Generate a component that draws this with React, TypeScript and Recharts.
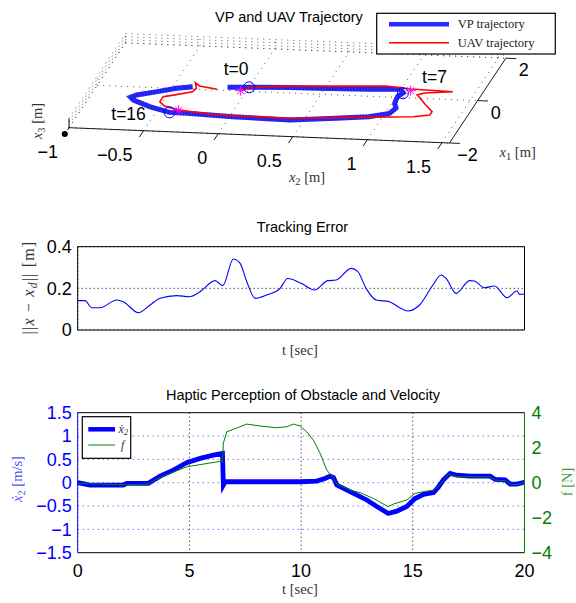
import React from "react";
import {
  LineChart,
  Line,
  XAxis,
  YAxis,
  CartesianGrid,
  ReferenceLine,
  ReferenceDot,
} from "recharts";

const SANS = "'Liberation Sans', Arial, Helvetica, sans-serif";
const SERIF = "'Liberation Serif', 'DejaVu Serif', 'Times New Roman', serif";
const BLUE = "#0000ff";
const RED = "#ff0000";
const GREEN = "#008000";
const MAGENTA = "#ff00ff";
const TICK_FONT = 18;

// 3D trajectories on the floor plane, [m]
const VP_X1 = [0.15, 0.19, 0.25, 0.27, 0.32, 0.38, 0.22, 0.03, -0.28, -0.5, -0.75, -0.94, -1.07, -1.24, -1.19, -1.12, -1.11, -0.89, -0.61, -0.49, -0.37, -0.18, 0.01, 0.11];
const VP_X2 = [-0.14, -0.01, 0.27, 0.46, 0.79, 1.0, 1.03, 1.01, 1.02, 1.05, 1.03, 0.91, 0.7, 0.41, 0.02, -0.29, -0.41, -0.56, -0.7, -0.73, -0.7, -0.58, -0.47, -0.37];
const UAV_X1 = [0.02, 0.19, 0.32, 0.5, 0.41, 0.36, 0.25, 0.15, 0.07, -0.3, -0.59, -0.75, -0.86, -1.0, -1.16, -1.14, -0.99, -0.83, -0.64, -0.4, -0.31, -0.12, 0.05, 0.3, 0.16, 0.04];
const UAV_X2 = [-0.04, 0.01, 0.26, 0.89, 1.06, 1.35, 1.17, 1.13, 1.15, 1.23, 1.3, 1.3, 1.2, 0.81, 0.4, -0.09, -0.36, -0.47, -0.52, -0.52, -0.46, -0.35, -0.34, -0.37, -0.33, -0.2];
const MARK_VP_X1 = [0.19, 0.2, -1.11];
const MARK_VP_X2 = [0.0, 1.03, -0.41];
const MARK_UAV_X1 = [0.02, 0.33, -0.99];
const MARK_UAV_X2 = [-0.04, 1.07, -0.36];
const MARK_LABELS = ["t=0", "t=7", "t=16"];
const X1_TICKS = [-2, 0, 2];
const X2_TICKS = [-1, -0.5, 0, 0.5, 1, 1.5];
const X3_TICKS = [0, 1, 2, 3];

// tracking error
const TE_T = [0, 0.33, 0.63, 1.0, 1.75, 2.04, 2.72, 3.24, 3.69, 4.43, 5.0, 5.48, 6.15, 6.49, 6.97, 7.27, 7.57, 7.94, 8.46, 9.06, 9.4, 10.0, 10.6, 11.19, 11.57, 12.24, 12.54, 12.91, 13.36, 13.96, 14.33, 14.78, 15.3, 15.9, 16.27, 16.49, 16.94, 17.54, 17.76, 18.2, 18.66, 19.22, 19.66, 19.78, 20];
const TE_V = [0.141, 0.141, 0.107, 0.107, 0.144, 0.136, 0.083, 0.12, 0.152, 0.165, 0.16, 0.184, 0.237, 0.213, 0.341, 0.32, 0.232, 0.152, 0.168, 0.2, 0.247, 0.224, 0.192, 0.237, 0.24, 0.296, 0.28, 0.2, 0.144, 0.136, 0.112, 0.091, 0.12, 0.216, 0.264, 0.248, 0.176, 0.237, 0.235, 0.203, 0.211, 0.155, 0.187, 0.171, 0.173];
const T_TICKS = [0, 5, 10, 15, 20];
const TE_TICKS = [0, 0.2, 0.4];

// haptic perception
const VEL_T = [0, 0.55, 2.04, 2.2, 3.16, 3.69, 4.28, 4.88, 5.48, 6.07, 6.48, 6.52, 6.6, 9.96, 10.7, 11.07, 11.3, 11.45, 11.6, 12.19, 12.94, 13.39, 13.9, 14.28, 14.73, 15.1, 15.48, 15.93, 16.15, 16.37, 16.67, 16.97, 17.57, 18.46, 18.69, 19.13, 19.36, 19.66, 20];
const VEL_V = [0, -0.05, -0.05, -0.015, -0.015, 0.14, 0.27, 0.43, 0.52, 0.59, 0.63, -0.05, 0.02, 0.02, 0.035, 0.09, 0.14, 0.11, -0.05, -0.19, -0.37, -0.51, -0.66, -0.61, -0.51, -0.34, -0.25, -0.21, -0.09, 0.06, 0.2, 0.16, 0.14, 0.14, 0.07, 0.06, -0.03, -0.03, 0.01];
const F_T = [0, 2.04, 3.16, 3.69, 4.88, 6.48, 6.52, 6.67, 6.97, 7.57, 8.16, 8.9, 9.36, 9.66, 9.96, 10.25, 10.55, 10.85, 11.15, 11.45, 11.6, 12.19, 12.64, 13.24, 13.9, 14.13, 14.73, 15.1, 15.48, 15.93, 16.22, 16.6, 16.97, 18.46, 18.69, 19.13, 19.36, 19.66, 20];
const F_V = [-0.04, -0.12, -0.08, 0.3, 0.91, 1.24, 2.25, 2.91, 3.05, 3.35, 3.24, 3.14, 3.2, 3.35, 3.24, 2.91, 2.44, 1.68, 0.72, 0.25, -0.08, -0.42, -0.57, -0.9, -1.37, -1.22, -0.99, -0.61, -0.51, -0.42, -0.13, 0.5, 0.34, 0.34, 0.15, 0.11, -0.08, -0.11, 0];
const VEL_TICKS = [-1.5, -1, -0.5, 0, 0.5, 1, 1.5];
const F_TICKS = [-4, -2, 0, 2, 4];

const fmt = (v: number) => (v < 0 ? "\u2212" + Math.abs(v) : String(v));

// oblique projection of the 3D box onto the chart's px/py space
const X1_MIN = -2;
const X1_MAX = 2;
const X2_MIN = -1;
const X2_MAX = 1.55;
const X3_MAX = 3;
const proj = (x1: number, x2: number, x3 = 0) => ({
  px: 69 + (x2 - X2_MIN) * 149.2 + (x1 - X1_MIN) * 14.1,
  py: 127.7 + (x2 - X2_MIN) * 6.0 - (x1 - X1_MIN) * 21.2 - x3 * 3.1,
});
const seg = (a: number[], b: number[]) => [proj(a[0], a[1], a[2]), proj(b[0], b[1], b[2])];

const tickText = (text: string, dx: number, dy: number, anchor: string, size = TICK_FONT) =>
  (p: any) => (
    <text x={p.cx + dx} y={p.cy + dy} textAnchor={anchor} fontFamily={SANS} fontSize={size} fill="#000">
      {text}
    </text>
  );

const star = (p: any) => (
  <g stroke={MAGENTA} strokeWidth={1}>
    <line x1={p.cx - 5} y1={p.cy} x2={p.cx + 5} y2={p.cy} />
    <line x1={p.cx} y1={p.cy - 5} x2={p.cx} y2={p.cy + 5} />
    <line x1={p.cx - 3.5} y1={p.cy - 3.5} x2={p.cx + 3.5} y2={p.cy + 3.5} />
    <line x1={p.cx - 3.5} y1={p.cy + 3.5} x2={p.cx + 3.5} y2={p.cy - 3.5} />
  </g>
);

const LABEL_DX = [-13, 31.6, -41];
const LABEL_DY = [-12, -10, 7.7];

const Trajectory3D = () => {
  const vp = VP_X1.map((x1, i) => proj(x1, VP_X2[i]));
  const uav = UAV_X1.map((x1, i) => proj(x1, UAV_X2[i]));
  const grid = [
    ...X2_TICKS.map((t) => seg([X1_MIN, t, 0], [X1_MAX, t, 0])),
    ...X1_TICKS.map((t) => seg([t, X2_MIN, 0], [t, X2_MAX, 0])),
    ...X3_TICKS.map((z) => seg([X1_MIN, X2_MIN, z], [X1_MAX, X2_MIN, z])),
    ...X1_TICKS.map((t) => seg([t, X2_MIN, 0], [t, X2_MIN, X3_MAX])),
    ...X3_TICKS.map((z) => seg([X1_MAX, X2_MIN, z], [X1_MAX, X2_MAX, z])),
    ...X2_TICKS.map((t) => seg([X1_MAX, t, 0], [X1_MAX, t, X3_MAX])),
  ];
  const frame = [
    seg([X1_MIN, X2_MIN, 0], [X1_MIN, X2_MAX, 0]),
    seg([X1_MIN, X2_MAX, 0], [X1_MAX, X2_MAX, 0]),
    seg([X1_MIN, X2_MIN, 0], [X1_MIN, X2_MIN, X3_MAX]),
    ...X2_TICKS.map((t) => seg([X1_MIN, t, 0], [X1_MIN - 0.3, t, 0])),
    ...X1_TICKS.map((t) => seg([t, X2_MAX, 0], [t, X2_MAX + 0.07, 0])),
  ];
  return (
    <LineChart width={576} height={200} margin={{ top: 0, right: 0, bottom: 0, left: 0 }}>
      <XAxis type="number" dataKey="px" domain={[0, 576]} hide allowDataOverflow />
      <YAxis type="number" domain={[0, 200]} reversed hide allowDataOverflow />
      {grid.map((d, i) => (
        <Line key={`g${i}`} data={d} dataKey="py" stroke="#444" strokeWidth={0.9} strokeDasharray="1 5" dot={false} isAnimationActive={false} />
      ))}
      {frame.map((d, i) => (
        <Line key={`f${i}`} data={d} dataKey="py" stroke="#000" strokeWidth={0.9} dot={false} isAnimationActive={false} />
      ))}
      <Line data={vp} dataKey="py" type="linear" stroke="#2a2aff" strokeWidth={5} dot={false} isAnimationActive={false} />
      <Line data={vp} dataKey="py" type="linear" stroke="#0000a0" strokeOpacity={0.35} strokeWidth={5} strokeDasharray="1 2" dot={false} isAnimationActive={false} />
      <Line data={uav} dataKey="py" type="linear" stroke={RED} strokeWidth={1.6} dot={false} isAnimationActive={false} />
      {MARK_VP_X1.map((x1, i) => {
        const p = proj(x1, MARK_VP_X2[i]);
        return <ReferenceDot key={`c${i}`} x={p.px} y={p.py} r={5.5} fill="none" stroke={BLUE} strokeWidth={1} />;
      })}
      {MARK_UAV_X1.map((x1, i) => {
        const p = proj(x1, MARK_UAV_X2[i]);
        return <ReferenceDot key={`s${i}`} x={p.px} y={p.py} r={5} shape={star} />;
      })}
      {MARK_VP_X1.map((x1, i) => {
        const p = proj(x1, MARK_VP_X2[i]);
        return (
          <ReferenceDot key={`l${i}`} x={p.px} y={p.py} r={0}
            shape={tickText(MARK_LABELS[i], LABEL_DX[i], LABEL_DY[i], "middle", 17.5)} />
        );
      })}
      {X2_TICKS.map((t) => {
        const p = proj(X1_MIN, t);
        return <ReferenceDot key={`x2t${t}`} x={p.px} y={p.py} r={0} shape={tickText(fmt(t), -11, 30.5, "end")} />;
      })}
      {X1_TICKS.map((t) => {
        const p = proj(t, X2_MAX);
        return <ReferenceDot key={`x1t${t}`} x={p.px} y={p.py} r={0} shape={tickText(fmt(t), 18, 18, "middle")} />;
      })}
    </LineChart>
  );
};

const TrackingError = () => {
  const data = TE_T.map((t, i) => ({ t, v: TE_V[i] }));
  return (
    <LineChart width={576} height={160} margin={{ top: 46.7, right: 51.5, bottom: 29, left: 27.7 }}>
      <CartesianGrid stroke="#000" strokeDasharray="1 3" />
      <XAxis type="number" dataKey="t" domain={[0, 20]} ticks={T_TICKS} tick={false} tickLine={false} height={1} stroke="#000" />
      <YAxis type="number" domain={[0, 0.4]} ticks={TE_TICKS} interval={0} width={50} tickLine={false} tickSize={3} tickMargin={3}
        tick={{ fill: "#000", fontSize: TICK_FONT, fontFamily: SANS }} tickFormatter={fmt} stroke="#000" />
      <ReferenceLine y={0.4} stroke="#000" />
      <ReferenceLine x={20} stroke="#000" />
      <Line data={data} dataKey="v" type="monotone" stroke={BLUE} strokeWidth={1.1} dot={false} isAnimationActive={false} />
    </LineChart>
  );
};

const Haptic = () => {
  const vel = VEL_T.map((t, i) => ({ t, v: VEL_V[i] }));
  const force = F_T.map((t, i) => ({ t, f: F_V[i] }));
  return (
    <LineChart width={576} height={223} margin={{ top: 32.7, right: 6.5, bottom: 20.3, left: 27.7 }}>
      <CartesianGrid yAxisId="v" horizontal={false} stroke="#000" strokeDasharray="1 3" />
      {VEL_TICKS.filter((v) => Math.abs(v) < 1.5).map((v) => (
        <ReferenceLine key={`h${v}`} yAxisId="v" y={v} stroke={BLUE} strokeOpacity={0.8} strokeDasharray="1 4" />
      ))}
      <XAxis type="number" dataKey="t" domain={[0, 20]} ticks={T_TICKS} interval={0} height={30} tickLine={false} tickSize={6} tickMargin={6}
        tick={{ fill: "#000", fontSize: TICK_FONT, fontFamily: SANS }} stroke="#000" />
      <YAxis yAxisId="v" type="number" domain={[-1.5, 1.5]} ticks={VEL_TICKS} interval={0} width={50} tickLine={false} tickSize={3} tickMargin={3}
        tick={{ fill: BLUE, fontSize: TICK_FONT, fontFamily: SANS }} tickFormatter={fmt} stroke={BLUE} />
      <YAxis yAxisId="f" orientation="right" type="number" domain={[-4, 4]} ticks={F_TICKS} interval={0} width={45} tickLine={false} tickSize={3} tickMargin={4}
        tick={{ fill: GREEN, fontSize: TICK_FONT, fontFamily: SANS }} tickFormatter={fmt} stroke={GREEN} />
      <ReferenceLine yAxisId="v" y={1.5} stroke="#000" />
      <Line yAxisId="v" data={vel} dataKey="v" type="linear" stroke={BLUE} strokeWidth={4.8} dot={false} isAnimationActive={false} />
      <Line yAxisId="f" data={force} dataKey="f" type="linear" stroke={GREEN} strokeWidth={1} dot={false} isAnimationActive={false} />
    </LineChart>
  );
};

const Sub = ({ children }: { children: React.ReactNode }) => (
  <tspan fontSize="72%" dy={3}>{children}</tspan>
);

const Overlay = () => (
  <svg width={576} height={603} style={{ position: "absolute", left: 0, top: 0, pointerEvents: "none" }}>
    {/* top plot */}
    <text x={289} y={21.5} textAnchor="middle" fontFamily={SANS} fontSize={14.5}>VP and UAV Trajectory</text>
    <rect x={376.7} y={13.3} width={178.6} height={40.7} fill="#fff" stroke="#000" strokeWidth={1.2} />
    <line x1={389} y1={24.3} x2={449} y2={24.3} stroke="#2a2aff" strokeWidth={4.5} />
    <text x={457.7} y={28} fontFamily={SERIF} fontSize={12.6} fill="#222">VP trajectory</text>
    <line x1={389} y1={42.7} x2={449} y2={42.7} stroke={RED} strokeWidth={1.5} />
    <text x={457.7} y={46.5} fontFamily={SERIF} fontSize={12.6} fill="#222">UAV trajectory</text>
    <text x={307} y={182} textAnchor="middle" fontFamily={SERIF} fontSize={14.5} fill="#333">
      <tspan fontStyle="italic">x</tspan><Sub>2</Sub><tspan dy={-3}> [m]</tspan>
    </text>
    <text x={517.7} y={157} textAnchor="middle" fontFamily={SERIF} fontSize={14.5} fill="#333">
      <tspan fontStyle="italic">x</tspan><Sub>1</Sub><tspan dy={-3}> [m]</tspan>
    </text>
    <text transform="translate(42,121) rotate(-90)" textAnchor="middle" fontFamily={SERIF} fontSize={14.5} fill="#333">
      <tspan fontStyle="italic">x</tspan><Sub>3</Sub><tspan dy={-3}> [m]</tspan>
    </text>

    {/* tracking error */}
    <text x={302.5} y={232.3} textAnchor="middle" fontFamily={SANS} fontSize={14.5}>Tracking Error</text>
    <text transform="translate(34,287.5) rotate(-90)" textAnchor="middle" fontFamily={SERIF} fontSize={16} letterSpacing={1.2} fill="#333">
      {"||"}<tspan fontStyle="italic">x</tspan>{"  \u2212  "}<tspan fontStyle="italic">x</tspan>
      <tspan fontStyle="italic" fontSize="72%" dy={3}>d</tspan><tspan dy={-3}>{"||  [m]"}</tspan>
    </text>
    <text x={300} y={355} textAnchor="middle" fontFamily={SERIF} fontSize={14.5} fill="#333">t [sec]</text>

    {/* haptic */}
    <text x={303} y={399.5} textAnchor="middle" fontFamily={SANS} fontSize={14.5}>Haptic Perception of Obstacle and Velocity</text>
    <text transform="translate(22,479) rotate(-90)" textAnchor="middle" fontFamily={SERIF} fontSize={14.5} fill={BLUE} fillOpacity={0.75}>
      <tspan fontStyle="italic">{"\u1E8B"}</tspan><Sub>2</Sub><tspan dy={-3}> [m/s]</tspan>
    </text>
    <text transform="translate(572,482) rotate(-90)" textAnchor="middle" fontFamily={SERIF} fontSize={14.5} fill={GREEN} fillOpacity={0.75}>
      <tspan>f</tspan><tspan> [N]</tspan>
    </text>
    <text x={300} y={594} textAnchor="middle" fontFamily={SERIF} fontSize={14.5} fill="#333">t [sec]</text>
    <rect x={82.3} y={416.7} width={48.4} height={41.6} fill="#fff" stroke="#000" strokeWidth={1.2} />
    <line x1={88.3} y1={429.3} x2={115} y2={429.3} stroke={BLUE} strokeWidth={4.5} />
    <text x={118.5} y={432.5} fontFamily={SERIF} fontSize={12} fontStyle="italic" fill="#333">
      {"\u1E8B"}<tspan fontSize="72%" dy={2.5}>2</tspan>
    </text>
    <line x1={88.3} y1={445} x2={115} y2={445} stroke={GREEN} strokeWidth={1} />
    <text x={121} y={449} fontFamily={SERIF} fontSize={12} fontStyle="italic" fill="#333">f</text>
  </svg>
);

export default function App() {
  return (
    <div style={{ position: "absolute", left: 0, top: 0, width: 576, height: 603, background: "#fff" }}>
      <div style={{ position: "absolute", left: 0, top: 0 }}>
        <Trajectory3D />
      </div>
      <div style={{ position: "absolute", left: 0, top: 200 }}>
        <TrackingError />
      </div>
      <div style={{ position: "absolute", left: 0, top: 380 }}>
        <Haptic />
      </div>
      <Overlay />
    </div>
  );
}
